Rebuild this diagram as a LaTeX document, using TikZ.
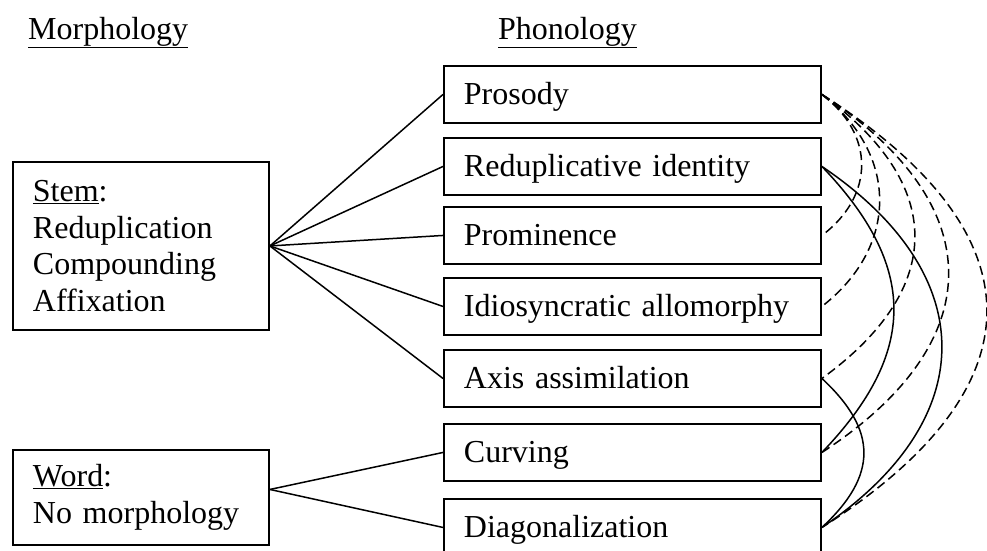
\documentclass[tikz,border=0pt]{standalone}
\usepackage{fontspec}
\setmainfont{Liberation Serif}
\usetikzlibrary{calc}
\begin{document}
\begin{tikzpicture}[x=1pt,y=-1pt,
  every node/.style={font=\fontsize{32}{36.7}\selectfont},
  box/.style={draw, line width=1.9pt, rectangle, anchor=north west, inner xsep=20pt, inner ysep=0pt, align=left},
  rbox/.style={box, minimum width=377pt, minimum height=57pt, text width=337pt, text height=21pt, text depth=1pt},
  lbox/.style={box, minimum width=256pt, text width=216pt},
  link/.style={line width=1.5pt},
  dlink/.style={line width=1.5pt, dash pattern=on 9pt off 5pt},
  title/.style={anchor=base west, inner sep=0pt}]
\useasboundingbox (0,0) rectangle (987,550);
\fill[white] (0,0) rectangle (987,550);

\node[title] (morph) at (28,39) {\underline{Morphology}};
\node[title] (phon) at (498,39) {\underline{Phonology}};

\node[lbox, minimum height=168pt] (stem) at (12,161) {\underline{Stem}:\\Reduplication\\Compounding\\Affixation};
\node[lbox, minimum height=95pt] (word) at (12,449) {\underline{Word}:\\No~morphology};

\node[rbox] (pros)  at (443,65)  {Prosody};
\node[rbox] (redup) at (443,137) {Reduplicative identity};
\node[rbox] (prom)  at (443,206) {Prominence};
\node[rbox] (idio)  at (443,277) {Idiosyncratic allomorphy};
\node[rbox] (axis)  at (443,349) {Axis assimilation};
\node[rbox] (curv)  at (443,423) {Curving};
\node[rbox] (diag)  at (443,498) {Diagonalization};

\draw[link] (stem.east) -- (pros.west);
\draw[link] (stem.east) -- (redup.west);
\draw[link] (stem.east) -- (prom.west);
\draw[link] (stem.east) -- (idio.west);
\draw[link] (stem.east) -- (axis.west);
\draw[link] ([yshift=8pt]word.east) -- (curv.west);
\draw[link] ([yshift=8pt]word.east) -- (diag.west);

\draw[dlink] (pros.east) .. controls ($(pros.east)+(53,40)$) and ($(prom.east)+(53,-40)$) .. (prom.east);
\draw[dlink] (pros.east) .. controls ($(pros.east)+(77,60)$) and ($(idio.east)+(77,-60)$) .. (idio.east);
\draw[dlink] (pros.east) .. controls ($(pros.east)+(124,90)$) and ($(axis.east)+(124,-90)$) .. (axis.east);
\draw[dlink] (pros.east) .. controls ($(pros.east)+(169,110)$) and ($(curv.east)+(169,-110)$) .. (curv.east);
\draw[dlink] (pros.east) .. controls ($(pros.east)+(220,140)$) and ($(diag.east)+(220,-140)$) .. (diag.east);

\draw[link] (redup.east) .. controls ($(redup.east)+(96,100)$) and ($(curv.east)+(96,-100)$) .. (curv.east);
\draw[link] (redup.east) .. controls ($(redup.east)+(160,108)$) and ($(diag.east)+(160,-108)$) .. (diag.east);
\draw[link] (axis.east) .. controls ($(axis.east)+(56,52)$) and ($(diag.east)+(56,-52)$) .. (diag.east);
\end{tikzpicture}
\end{document}
